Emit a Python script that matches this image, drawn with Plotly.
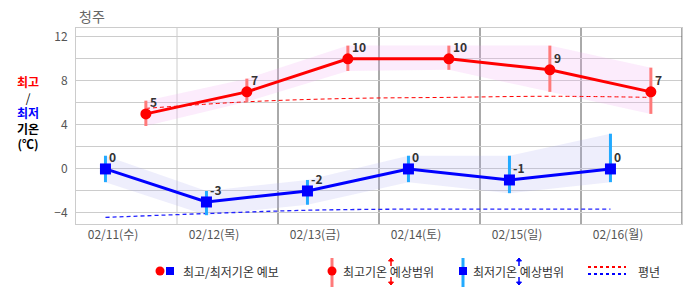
import plotly.graph_objects as go

# ---------------- data ----------------
dates = ["02/11(수)", "02/12(목)", "02/13(금)", "02/14(토)", "02/15(일)", "02/16(월)"]
max_temp = [5, 7, 10, 10, 9, 7]
max_hi = [6.2, 8.2, 11.2, 11.2, 11.2, 9.2]
max_lo = [3.9, 6.1, 8.9, 9.0, 7.0, 5.0]
min_temp = [0, -3, -2, 0, -1, 0]
min_hi = [1.2, -2.0, -1.0, 1.2, 1.2, 3.2]
min_lo = [-1.2, -4.2, -3.25, -1.2, -2.2, -1.2]
normal_max = [5.5, 6.1, 6.4, 6.5, 6.6, 6.5]
normal_min = [-4.4, -4.05, -3.75, -3.65, -3.65, -3.65]
MIN_HOUR = 7.0     # hour of day for the minimum
MAX_HOUR = 16.6    # hour of day for the maximum
LABEL_HOUR = 8.8

x_min = [24 * i + MIN_HOUR for i in range(len(dates))]
x_max = [24 * i + MAX_HOUR for i in range(len(dates))]
x_tick = [24 * i + LABEL_HOUR for i in range(len(dates))]

W, H = 686, 295
ML, MR, MT, MB = 76, 4, 28, 71
PW, PH = W - ML - MR, H - MT - MB


def px(x):
    return (x - ML) / PW


def py(y):
    return (H - MB - y) / PH


FONT = "Noto Sans CJK KR"
fig = go.Figure()

# bands
fig.add_trace(go.Scatter(x=x_max, y=max_hi, mode="lines", line=dict(width=0), hoverinfo="skip", showlegend=False))
fig.add_trace(go.Scatter(x=x_max, y=max_lo, mode="lines", line=dict(width=0), fill="tonexty",
                         fillcolor="rgba(240,170,240,0.22)", hoverinfo="skip", showlegend=False))
fig.add_trace(go.Scatter(x=x_min, y=min_hi, mode="lines", line=dict(width=0), hoverinfo="skip", showlegend=False))
fig.add_trace(go.Scatter(x=x_min, y=min_lo, mode="lines", line=dict(width=0), fill="tonexty",
                         fillcolor="rgba(170,170,240,0.2)", hoverinfo="skip", showlegend=False))

# normals
fig.add_trace(go.Scatter(x=x_max, y=normal_max, mode="lines", line=dict(color="#ff0000", width=1, dash="4px,3px", shape="spline"),
                         showlegend=False))
fig.add_trace(go.Scatter(x=x_min, y=normal_min, mode="lines", line=dict(color="#2222ff", width=1.3, dash="4px,3px", shape="spline"),
                         showlegend=False))

# range bars
fig.add_trace(go.Scatter(x=x_max, y=max_temp, mode="markers", marker=dict(size=1, opacity=0),
                         error_y=dict(type="data", symmetric=False,
                                      array=[h - v for h, v in zip(max_hi, max_temp)],
                                      arrayminus=[v - l for v, l in zip(max_temp, max_lo)],
                                      color="#ff7a7a", thickness=3, width=0),
                         showlegend=False))
fig.add_trace(go.Scatter(x=x_min, y=min_temp, mode="markers", marker=dict(size=1, opacity=0),
                         error_y=dict(type="data", symmetric=False,
                                      array=[h - v for h, v in zip(min_hi, min_temp)],
                                      arrayminus=[v - l for v, l in zip(min_temp, min_lo)],
                                      color="#22aaff", thickness=3, width=0),
                         showlegend=False))

# main lines
fig.add_trace(go.Scatter(x=x_max, y=max_temp, mode="lines+markers",
                         line=dict(color="#ff0000", width=3),
                         marker=dict(symbol="circle", size=11, color="#ff0000"), showlegend=False))
fig.add_trace(go.Scatter(x=x_min, y=min_temp, mode="lines+markers",
                         line=dict(color="#0000ff", width=3),
                         marker=dict(symbol="square", size=11, color="#0000ff"), showlegend=False))

annotations = []
for xs, ys in ((x_max, max_temp), (x_min, min_temp)):
    for xv, yv in zip(xs, ys):
        annotations.append(dict(x=xv, y=yv, xref="x", yref="y", text=f"<b>{yv}</b>", showarrow=False,
                                xanchor="left", yanchor="bottom", xshift=2, yshift=2,
                                font=dict(family=FONT, size=12, color="#333333")))

# title
annotations.append(dict(x=px(77), y=py(16), xref="paper", yref="paper", text="청주", showarrow=False,
                        xanchor="left", yanchor="middle", font=dict(family=FONT, size=14, color="#666666")))

# left axis label (one multi-line text)
ylab = ("<b><span style='color:#ff0000'>최고</span></b><br>"
        "<span style='color:#000000'>/</span><br>"
        "<b><span style='color:#0000ff'>최저</span></b><br>"
        "<b>기온</b><br>"
        "<b>(℃)</b>")
annotations.append(dict(x=px(28), y=py(112), xref="paper", yref="paper", text=ylab, showarrow=False,
                        xanchor="center", yanchor="middle", align="center",
                        font=dict(family=FONT, size=12, color="#000000")))

# legend texts
LY = 271
for txt, lx in (("최고/최저기온 예보", 181), ("최고기온 예상범위", 341), ("최저기온 예상범위", 471), ("평년", 636)):
    annotations.append(dict(x=px(lx), y=py(LY), xref="paper", yref="paper", text=txt, showarrow=False,
                            xanchor="left", yanchor="middle", font=dict(family=FONT, size=12, color="#333333")))

shapes = []
# vertical day separators
for i in range(1, 7):
    col = "#cccccc" if i == 1 else "#555555"
    shapes.append(dict(type="line", xref="x", yref="paper", x0=24 * i, x1=24 * i, y0=0, y1=1,
                       line=dict(color=col, width=1), layer="below" if i < 6 else "above"))


def seg(x0, y0, x1, y1, color, width, dash=None):
    d = dict(type="line", xref="paper", yref="paper", x0=px(x0), y0=py(y0), x1=px(x1), y1=py(y1),
             line=dict(color=color, width=width))
    if dash:
        d["line"]["dash"] = dash
    return d


def circ(cx, cy, r, color):
    return dict(type="circle", xref="paper", yref="paper", x0=px(cx - r), x1=px(cx + r), y0=py(cy - r), y1=py(cy + r),
                fillcolor=color, line=dict(width=0))


def rect(cx, cy, r, color):
    return dict(type="rect", xref="paper", yref="paper", x0=px(cx - r), x1=px(cx + r), y0=py(cy - r), y1=py(cy + r),
                fillcolor=color, line=dict(width=0))


def arrow(cx, ytip, ytail, color):
    s = [seg(cx, ytip, cx, ytail, color, 1.5)]
    d = 3 if ytail > ytip else -3
    path = f"M {px(cx - 2.5)},{py(ytip + d)} L {px(cx)},{py(ytip)} L {px(cx + 2.5)},{py(ytip + d)} Z"
    s.append(dict(type="path", xref="paper", yref="paper", path=path, fillcolor=color, line=dict(color=color, width=1)))
    return s


# legend icons
shapes.append(circ(160, LY, 4.5, "#ff0000"))
shapes.append(rect(170, LY, 4, "#0000ff"))
shapes.append(seg(332, 258, 332, 287, "#ff7a7a", 3))
shapes.append(circ(332, LY, 4.5, "#ff0000"))
shapes += arrow(391, 258, 266, "#ff0000")
shapes += arrow(391, 285, 277, "#ff0000")
shapes.append(seg(463, 258, 463, 287, "#22aaff", 3))
shapes.append(rect(463, LY, 4, "#0000ff"))
shapes += arrow(519, 258, 266, "#0000ff")
shapes += arrow(519, 285, 277, "#0000ff")
shapes.append(seg(588, 267, 626, 267, "#ff0000", 2, "dot"))
shapes.append(seg(588, 274, 626, 274, "#0000ff", 2, "dot"))

fig.update_layout(
    width=W, height=H,
    margin=dict(l=ML, r=MR, t=MT, b=MB, pad=0),
    paper_bgcolor="white", plot_bgcolor="white",
    showlegend=False,
    annotations=annotations,
    shapes=shapes,
    xaxis=dict(range=[0, 144], tickmode="array", tickvals=x_tick, ticktext=dates,
               showgrid=False, zeroline=False, showline=True, linecolor="#cccccc", linewidth=1, mirror=True,
               ticks="", tickfont=dict(family=FONT, size=12, color="#555555")),
    yaxis=dict(range=[-5, 12.8], tickmode="array", tickvals=[-4, 0, 4, 8, 12],
               showgrid=True, gridcolor="#cccccc", gridwidth=1, zeroline=False,
               minor=dict(tickmode="array", tickvals=[-4, -2, 0, 2, 4, 6, 8, 10, 12], showgrid=True, gridcolor="#cccccc", gridwidth=1),
               showline=True, linecolor="#cccccc", linewidth=1, mirror=True,
               ticks="", ticklabelstandoff=5, tickfont=dict(family=FONT, size=12, color="#555555")),
)

fig.write_html("out.html")
